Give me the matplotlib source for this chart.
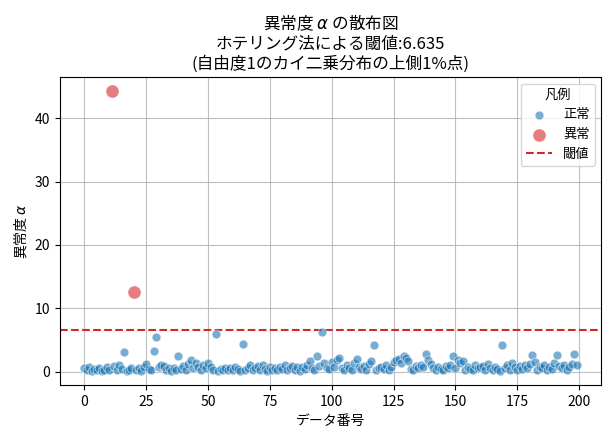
import matplotlib
matplotlib.use("Agg")
import matplotlib.pyplot as plt

plt.rcParams['font.family'] = ['Noto Sans CJK JP', 'DejaVu Sans']

threshold = 6.635

scores = [
    0.6, 0.2, 0.8, 0.1, 0.4, 0.3, 0.5, 0.1, 0.2, 0.7,
    0.3, 44.3, 0.9, 0.2, 1.0, 0.4, 3.1, 0.1, 0.3, 0.5,
    12.5, 0.2, 0.6, 0.1, 0.8, 1.2, 0.4, 0.2, 3.3, 5.5,
    0.7, 1.0, 0.9, 0.3, 0.5, 0.1, 0.6, 0.2, 2.4, 0.4,
    0.9, 0.3, 1.2, 1.9, 0.6, 1.4, 0.8, 0.2, 1.1, 0.5,
    1.3, 0.7, 0.3, 6.0, 0.1, 0.4, 0.2, 0.6, 0.3, 0.5,
    0.2, 0.8, 0.4, 0.1, 4.3, 0.3, 0.6, 1.1, 0.2, 0.5,
    0.9, 0.3, 1.0, 0.4, 0.1, 0.7, 0.2, 0.5, 0.3, 0.8,
    0.4, 1.0, 0.2, 0.6, 0.9, 0.3, 0.7, 0.1, 0.8, 0.4,
    1.1, 1.7, 0.5, 0.3, 2.4, 0.9, 6.2, 1.3, 0.6, 0.4,
    1.5, 0.8, 1.9, 2.1, 0.5, 0.2, 1.0, 0.6, 0.3, 1.4,
    2.0, 0.7, 0.4, 0.9, 0.2, 1.2, 1.7, 4.2, 0.3, 0.6,
    0.8, 0.4, 1.1, 0.2, 0.7, 1.5, 1.9, 2.0, 1.3, 2.5,
    2.1, 1.6, 0.4, 0.3, 0.9, 0.5, 1.0, 0.7, 2.8, 1.8,
    1.2, 0.6, 0.3, 0.8, 0.4, 0.2, 0.9, 0.5, 1.1, 2.5,
    0.6, 1.9, 1.4, 1.7, 0.3, 0.8, 0.4, 0.2, 1.0, 0.5,
    0.7, 0.9, 0.3, 1.2, 0.6, 0.2, 0.8, 0.4, 0.1, 4.2,
    0.5, 1.0, 0.3, 1.4, 0.7, 0.2, 0.9, 0.4, 1.1, 0.6,
    1.2, 2.6, 1.5, 0.3, 0.8, 0.5, 1.0, 0.2, 0.7, 0.4,
    1.3, 2.6, 0.9, 0.6, 1.1, 0.3, 0.8, 1.2, 2.8, 1.0,
]
index = list(range(len(scores)))

normal_x = [i for i, v in zip(index, scores) if v <= threshold]
normal_y = [v for v in scores if v <= threshold]
anom_x = [i for i, v in zip(index, scores) if v > threshold]
anom_y = [v for v in scores if v > threshold]

fig, ax = plt.subplots(figsize=(6.11, 4.37), dpi=100)
fig.subplots_adjust(left=0.098, right=0.984, top=0.824, bottom=0.119)

ax.scatter(normal_x, normal_y, s=40, color='tab:blue', alpha=0.6,
           edgecolors='white', linewidths=0.6, label='正常', zorder=3)
ax.scatter(anom_x, anom_y, s=90, color='tab:red', alpha=0.6,
           edgecolors='white', linewidths=0.6, label='異常', zorder=3)
ax.axhline(threshold, color='tab:red', linestyle='--', linewidth=1.5, label='閾値')

ax.grid(True, color='#b0b0b0', linewidth=0.8, alpha=0.8)
ax.set_axisbelow(True)
ax.set_xticks([0, 25, 50, 75, 100, 125, 150, 175, 200])
ax.set_xlabel('データ番号')
ax.set_ylabel('異常度 $\\alpha$')
ax.set_title('異常度 $\\alpha$ の散布図\nホテリング法による閾値:6.635\n(自由度1のカイ二乗分布の上側1%点)',
             fontsize=12)
ax.legend(title='凡例', loc='upper right', fontsize=9.5, title_fontsize=9.5)

plt.savefig('out.png', dpi=100)
